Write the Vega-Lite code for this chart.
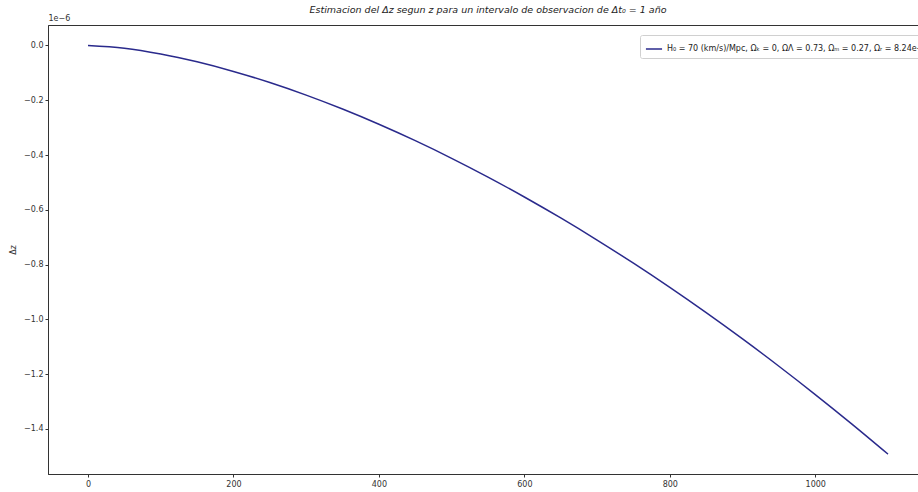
{
  "$schema": "https://vega.github.io/schema/vega-lite/v6.json",
  "autosize": {"type": "none"},
  "padding": {"left": 48, "top": 25, "right": 0, "bottom": 18},
  "width": 880,
  "height": 449,
  "background": "white",
  "config": {
    "font": "DejaVu Sans",
    "view": {"stroke": "#333", "strokeWidth": 1}
  },
  "title": {
    "text": "Estimacion del Δz segun z para un intervalo de observacion de Δt₀ = 1 año",
    "fontStyle": "italic",
    "fontWeight": "normal",
    "fontSize": 9.5,
    "color": "#222",
    "font": "DejaVu Sans",
    "anchor": "middle",
    "offset": 0
  },
  "data": {
    "values": [
      {"z": 0, "dz": 0.0},
      {"z": 50, "dz": -0.010003},
      {"z": 100, "dz": -0.031106},
      {"z": 150, "dz": -0.059786},
      {"z": 200, "dz": -0.094819},
      {"z": 250, "dz": -0.135518},
      {"z": 300, "dz": -0.181438},
      {"z": 350, "dz": -0.232262},
      {"z": 400, "dz": -0.287754},
      {"z": 450, "dz": -0.347728},
      {"z": 500, "dz": -0.412039},
      {"z": 550, "dz": -0.480564},
      {"z": 600, "dz": -0.553206},
      {"z": 650, "dz": -0.629878},
      {"z": 700, "dz": -0.710508},
      {"z": 750, "dz": -0.795034},
      {"z": 800, "dz": -0.883402},
      {"z": 850, "dz": -0.975565},
      {"z": 900, "dz": -1.07148},
      {"z": 950, "dz": -1.17111},
      {"z": 1000, "dz": -1.274423},
      {"z": 1050, "dz": -1.381387},
      {"z": 1100, "dz": -1.491976}
    ]
  },
  "layer": [
    {
      "mark": {"type": "line", "interpolate": "monotone", "strokeWidth": 1.5, "clip": true},
      "encoding": {
        "x": {
          "field": "z", "type": "quantitative",
          "scale": {"domain": [-55, 1155], "nice": false, "zero": false},
          "axis": {
            "values": [0, 200, 400, 600, 800, 1000],
            "format": "d",
            "grid": false, "tickSize": 3, "tickColor": "#333", "domainColor": "#333",
            "labelFontSize": 8, "labelColor": "#333", "labelPadding": 3,
            "title": "z", "titleFontSize": 8, "titleFontWeight": "normal", "titleColor": "#333", "titlePadding": 4
          }
        },
        "y": {
          "field": "dz", "type": "quantitative",
          "scale": {"domain": [-1.5645, 0.0746], "nice": false, "zero": false},
          "axis": {
            "values": [0, -0.2, -0.4, -0.6, -0.8, -1.0, -1.2, -1.4],
            "format": ".1f",
            "grid": false, "tickSize": 3, "tickColor": "#333", "domainColor": "#333",
            "labelFontSize": 8, "labelColor": "#333", "labelPadding": 2,
            "title": "Δz", "titleFontSize": 8, "titleFontWeight": "normal", "titleColor": "#333", "titlePadding": 6
          }
        },
        "color": {
          "datum": "H₀ = 70 (km/s)/Mpc, Ωₖ = 0, ΩΛ = 0.73, Ωₘ = 0.27, Ωᵣ = 8.24e-05",
          "type": "nominal",
          "scale": {"range": ["#2a2a8c"]},
          "legend": {
            "title": null,
            "orient": "none",
            "legendX": 592,
            "legendY": 10,
            "symbolType": "stroke",
            "symbolStrokeWidth": 1.5,
            "symbolSize": 260,
            "labelFontSize": 8,
            "labelColor": "#222",
            "labelLimit": 0,
            "strokeColor": "#d0d0d0",
            "fillColor": "white",
            "padding": 5,
            "cornerRadius": 2
          }
        }
      }
    },
    {
      "mark": {"type": "line", "opacity": 0},
      "encoding": {
        "x": {
          "field": "z", "type": "quantitative",
          "axis": {
            "orient": "top", "labels": false, "ticks": false, "domain": false, "grid": false,
            "title": "1e−6", "titleFontSize": 8, "titleFontWeight": "normal", "titleColor": "#333",
            "titleAnchor": "start", "titleAlign": "left", "titleAngle": 0, "titleX": 0, "titleY": -5, "titleBaseline": "alphabetic"
          }
        },
        "y": {"field": "dz", "type": "quantitative"}
      }
    }
  ],
  "resolve": {"axis": {"x": "independent"}}
}
